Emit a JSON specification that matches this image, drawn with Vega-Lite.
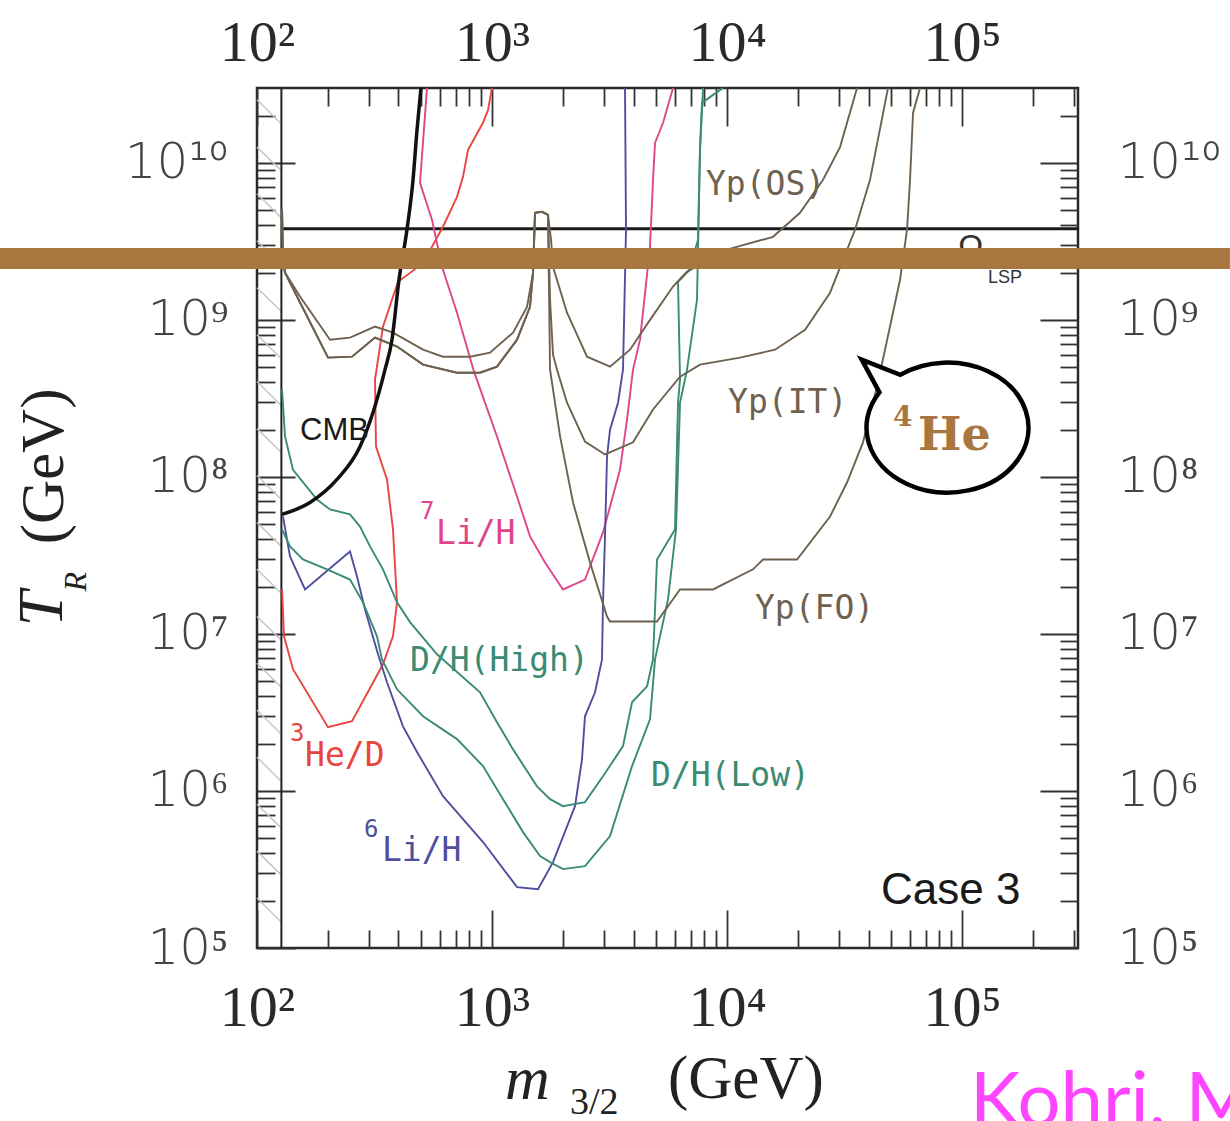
{
"$schema":"https://vega.github.io/schema/vega-lite/v6.json",
"width":821,"height":860,
"autosize":{"type":"none"},
"padding":{"left":257,"top":88,"right":152,"bottom":173},
"background":"white",
"config":{"view":{"stroke":"#2a2a2a","strokeWidth":2.5},"axis":{"domain":false,"grid":false,"title":null,"tickColor":"#333333","tickWidth":1.8,"labelOverlap":false,"labelFlush":false}},
"resolve":{"axis":{"x":"independent","y":"independent"}},
"datasets":{
"curves":[
{"c":"CMB","m":127.8,"T":5.77e7},{"c":"CMB","m":168.1,"T":6.87e7},{"c":"CMB","m":219,"T":9.63e7},{"c":"CMB","m":274.4,"T":1.56e8},{"c":"CMB","m":311.6,"T":2.57e8},{"c":"CMB","m":350.5,"T":4.82e8},{"c":"CMB","m":375.3,"T":7.48e8},{"c":"CMB","m":402,"T":1.8e9},{"c":"CMB","m":434.6,"T":3.75e9},{"c":"CMB","m":461.2,"T":7.8e9},{"c":"CMB","m":479.6,"T":1.62e10},{"c":"CMB","m":498.6,"T":3.0e10},
{"c":"He3","m":127.8,"T":1.922e7},{"c":"He3","m":130.3,"T":9.66e6},{"c":"He3","m":142.3,"T":5.96e6},{"c":"He3","m":200.5,"T":2.55e6},{"c":"He3","m":253.7,"T":2.78e6},{"c":"He3","m":343.6,"T":6.41e6},{"c":"He3","m":379,"T":9.66e6},{"c":"He3","m":394.3,"T":1.59e7},{"c":"He3","m":379,"T":4.63e7},{"c":"He3","m":357.4,"T":9.63e7},{"c":"He3","m":320.9,"T":1.56e8},{"c":"He3","m":317.8,"T":4.17e8},{"c":"He3","m":343.6,"T":9.06e8},{"c":"He3","m":398.1,"T":1.75e9},{"c":"He3","m":479.6,"T":2.15e9},{"c":"He3","m":555.4,"T":2.92e9},{"c":"He3","m":618.6,"T":3.92e9},{"c":"He3","m":709.8,"T":6.08e9},{"c":"He3","m":752.6,"T":8.15e9},{"c":"He3","m":790.6,"T":1.21e10},{"c":"He3","m":915.6,"T":1.8e10},{"c":"He3","m":961.6,"T":2.17e10},{"c":"He3","m":1000,"T":3.0e10},
{"c":"Li7","m":528.9,"T":3.0e10},{"c":"Li7","m":493.9,"T":7.46e9},{"c":"Li7","m":555.4,"T":4.34e9},{"c":"Li7","m":612.6,"T":2.18e9},{"c":"Li7","m":709.8,"T":1.11e9},{"c":"Li7","m":838.3,"T":4.68e8},{"c":"Li7","m":1050,"T":1.81e8},{"c":"Li7","m":1278,"T":7.5e7},{"c":"Li7","m":1451,"T":4.18e7},{"c":"Li7","m":1681,"T":2.85e7},{"c":"Li7","m":2005,"T":1.92e7},{"c":"Li7","m":2487,"T":2.22e7},{"c":"Li7","m":2967,"T":4.43e7},{"c":"Li7","m":3504,"T":1.11e8},{"c":"Li7","m":3754,"T":2.32e8},{"c":"Li7","m":3981,"T":4.82e8},{"c":"Li7","m":4265,"T":7.48e8},{"c":"Li7","m":4702,"T":2.92e9},{"c":"Li7","m":4843,"T":7.8e9},{"c":"Li7","m":4939,"T":1.34e10},{"c":"Li7","m":5343,"T":1.8e10},{"c":"Li7","m":5891,"T":3.0e10},
{"c":"Li6","m":129,"T":5.6e7},{"c":"Li6","m":138.2,"T":3.12e7},{"c":"Li6","m":160.1,"T":1.92e7},{"c":"Li6","m":248.7,"T":3.35e7},{"c":"Li6","m":266.4,"T":2.32e7},{"c":"Li6","m":288.1,"T":1.43e7},{"c":"Li6","m":327.3,"T":7.42e6},{"c":"Li6","m":357.4,"T":4.92e6},{"c":"Li6","m":418,"T":2.58e6},{"c":"Li6","m":479.6,"T":1.77e6},{"c":"Li6","m":618.6,"T":9.27e5},{"c":"Li6","m":915.6,"T":4.73e5},{"c":"Li6","m":1278,"T":2.44e5},{"c":"Li6","m":1569,"T":2.37e5},{"c":"Li6","m":1818,"T":3.52e5},{"c":"Li6","m":2255,"T":8.0e5},{"c":"Li6","m":2415,"T":1.59e6},{"c":"Li6","m":2487,"T":2.99e6},{"c":"Li6","m":2744,"T":4.25e6},{"c":"Li6","m":2938,"T":6.89e6},{"c":"Li6","m":2967,"T":1.59e7},{"c":"Li6","m":3026,"T":4.18e7},{"c":"Li6","m":3086,"T":1.35e8},{"c":"Li6","m":3178,"T":2.0e8},{"c":"Li6","m":3437,"T":2.97e8},{"c":"Li6","m":3609,"T":4.82e8},{"c":"Li6","m":3717,"T":3.75e9},{"c":"Li6","m":3681,"T":3.0e10},
{"c":"DHH","m":127.8,"T":3.6e8},{"c":"DHH","m":131.6,"T":1.81e8},{"c":"DHH","m":142.3,"T":1.11e8},{"c":"DHH","m":180,"T":7.18e7},{"c":"DHH","m":204.5,"T":6.21e7},{"c":"DHH","m":248.7,"T":5.77e7},{"c":"DHH","m":274.4,"T":4.83e7},{"c":"DHH","m":302.6,"T":3.61e7},{"c":"DHH","m":343.6,"T":2.58e7},{"c":"DHH","m":394.3,"T":1.59e7},{"c":"DHH","m":447.8,"T":1.19e7},{"c":"DHH","m":583.4,"T":7.42e6},{"c":"DHH","m":889,"T":4.25e6},{"c":"DHH","m":1050,"T":2.74e6},{"c":"DHH","m":1229,"T":1.84e6},{"c":"DHH","m":1554,"T":1.07e6},{"c":"DHH","m":1766,"T":8.87e5},{"c":"DHH","m":2005,"T":8.0e5},{"c":"DHH","m":2487,"T":8.49e5},{"c":"DHH","m":2967,"T":1.24e6},{"c":"DHH","m":3609,"T":1.93e6},{"c":"DHH","m":3943,"T":3.67e6},{"c":"DHH","m":4567,"T":4.64e6},{"c":"DHH","m":4843,"T":6.89e6},{"c":"DHH","m":5036,"T":2.98e7},{"c":"DHH","m":6006,"T":4.63e7},{"c":"DHH","m":6187,"T":2.97e8},{"c":"DHH","m":6310,"T":4.17e8},{"c":"DHH","m":6187,"T":1.75e9},{"c":"DHH","m":6891,"T":2.06e9},{"c":"DHH","m":7526,"T":3.24e9},{"c":"DHH","m":7676,"T":1.21e10},{"c":"DHH","m":7906,"T":3.0e10},
{"c":"DHL","m":127.8,"T":4.63e7},{"c":"DHL","m":138.2,"T":3.61e7},{"c":"DHL","m":156.9,"T":2.98e7},{"c":"DHL","m":198.6,"T":2.58e7},{"c":"DHL","m":248.7,"T":2.22e7},{"c":"DHL","m":282.5,"T":1.59e7},{"c":"DHL","m":324.1,"T":9.66e6},{"c":"DHL","m":340.3,"T":6.89e6},{"c":"DHL","m":394.3,"T":4.44e6},{"c":"DHL","m":508.6,"T":2.99e6},{"c":"DHL","m":709.8,"T":2.14e6},{"c":"DHL","m":915.6,"T":1.44e6},{"c":"DHL","m":1114,"T":8.87e5},{"c":"DHL","m":1355,"T":5.47e5},{"c":"DHL","m":1601,"T":3.85e5},{"c":"DHL","m":1766,"T":3.52e5},{"c":"DHL","m":2005,"T":3.18e5},{"c":"DHL","m":2487,"T":3.32e5},{"c":"DHL","m":3178,"T":5.16e5},{"c":"DHL","m":3943,"T":1.44e6},{"c":"DHL","m":4702,"T":2.86e6},{"c":"DHL","m":4939,"T":6.89e6},{"c":"DHL","m":5609,"T":1.66e7},{"c":"DHL","m":6067,"T":4.63e7},{"c":"DHL","m":6310,"T":2.97e8},{"c":"DHL","m":6757,"T":4.82e8},{"c":"DHL","m":7452,"T":1.34e9},{"c":"DHL","m":7676,"T":1.26e10},{"c":"DHL","m":7828,"T":2.41e10},{"c":"DHL","m":8718,"T":2.71e10},{"c":"DHL","m":9616,"T":3.0e10},
{"c":"YpOS","m":127.8,"T":5.02e9},{"c":"YpOS","m":129,"T":2.42e9},{"c":"YpOS","m":131.6,"T":2.0e9},{"c":"YpOS","m":152.4,"T":1.41e9},{"c":"YpOS","m":204.5,"T":7.48e8},{"c":"YpOS","m":248.7,"T":7.71e8},{"c":"YpOS","m":317.8,"T":9.06e8},{"c":"YpOS","m":379,"T":8.29e8},{"c":"YpOS","m":508.6,"T":6.46e8},{"c":"YpOS","m":618.6,"T":5.83e8},{"c":"YpOS","m":806,"T":5.83e8},{"c":"YpOS","m":980.6,"T":6.18e8},{"c":"YpOS","m":1229,"T":8.29e8},{"c":"YpOS","m":1409,"T":1.21e9},{"c":"YpOS","m":1495,"T":2.0e9},{"c":"YpOS","m":1524,"T":4.81e9},{"c":"YpOS","m":1633,"T":4.88e9},{"c":"YpOS","m":1731,"T":4.67e9},{"c":"YpOS","m":1783,"T":3.24e9},{"c":"YpOS","m":1818,"T":2.18e9},{"c":"YpOS","m":2085,"T":1.11e9},{"c":"YpOS","m":2537,"T":5.83e8},{"c":"YpOS","m":3178,"T":5.04e8},{"c":"YpOS","m":3866,"T":6.46e8},{"c":"YpOS","m":4702,"T":1.0e9},{"c":"YpOS","m":5891,"T":1.63e9},{"c":"YpOS","m":6757,"T":2.03e9},{"c":"YpOS","m":10000,"T":2.8e9},{"c":"YpOS","m":15690,"T":3.38e9},{"c":"YpOS","m":20450,"T":4.81e9},{"c":"YpOS","m":25620,"T":7.8e9},{"c":"YpOS","m":30260,"T":1.26e10},{"c":"YpOS","m":35750,"T":3.0e10},
{"c":"YpIT","m":127.8,"T":5.02e9},{"c":"YpIT","m":129,"T":2.42e9},{"c":"YpIT","m":131.6,"T":2.0e9},{"c":"YpIT","m":148,"T":1.41e9},{"c":"YpIT","m":200.5,"T":5.75e8},{"c":"YpIT","m":253.7,"T":5.83e8},{"c":"YpIT","m":317.8,"T":7.71e8},{"c":"YpIT","m":394.3,"T":6.76e8},{"c":"YpIT","m":508.6,"T":5.19e8},{"c":"YpIT","m":709.8,"T":4.61e8},{"c":"YpIT","m":889,"T":4.61e8},{"c":"YpIT","m":1050,"T":5.04e8},{"c":"YpIT","m":1278,"T":7.48e8},{"c":"YpIT","m":1451,"T":1.21e9},{"c":"YpIT","m":1495,"T":2.0e9},{"c":"YpIT","m":1524,"T":4.81e9},{"c":"YpIT","m":1633,"T":4.88e9},{"c":"YpIT","m":1731,"T":4.67e9},{"c":"YpIT","m":1766,"T":1.34e9},{"c":"YpIT","m":1818,"T":6.0e8},{"c":"YpIT","m":1891,"T":4.82e8},{"c":"YpIT","m":2085,"T":2.97e8},{"c":"YpIT","m":2487,"T":1.68e8},{"c":"YpIT","m":3026,"T":1.39e8},{"c":"YpIT","m":3981,"T":1.66e8},{"c":"YpIT","m":4843,"T":2.69e8},{"c":"YpIT","m":6310,"T":4.35e8},{"c":"YpIT","m":7676,"T":5.19e8},{"c":"YpIT","m":11360,"T":5.75e8},{"c":"YpIT","m":16010,"T":6.46e8},{"c":"YpIT","m":21480,"T":8.66e8},{"c":"YpIT","m":27440,"T":1.49e9},{"c":"YpIT","m":35040,"T":3.75e9},{"c":"YpIT","m":40600,"T":7.8e9},{"c":"YpIT","m":48430,"T":3.0e10},
{"c":"YpFO","m":127.8,"T":5.02e9},{"c":"YpFO","m":129,"T":2.42e9},{"c":"YpFO","m":131.6,"T":2.0e9},{"c":"YpFO","m":148,"T":1.41e9},{"c":"YpFO","m":200.5,"T":5.75e8},{"c":"YpFO","m":253.7,"T":5.83e8},{"c":"YpFO","m":317.8,"T":7.71e8},{"c":"YpFO","m":394.3,"T":6.76e8},{"c":"YpFO","m":508.6,"T":5.19e8},{"c":"YpFO","m":709.8,"T":4.61e8},{"c":"YpFO","m":889,"T":4.61e8},{"c":"YpFO","m":1050,"T":5.04e8},{"c":"YpFO","m":1278,"T":7.48e8},{"c":"YpFO","m":1451,"T":1.21e9},{"c":"YpFO","m":1495,"T":2.0e9},{"c":"YpFO","m":1524,"T":4.81e9},{"c":"YpFO","m":1633,"T":4.88e9},{"c":"YpFO","m":1731,"T":4.67e9},{"c":"YpFO","m":1766,"T":4.82e8},{"c":"YpFO","m":1948,"T":1.81e8},{"c":"YpFO","m":2212,"T":6.87e7},{"c":"YpFO","m":2612,"T":2.85e7},{"c":"YpFO","m":3086,"T":1.29e7},{"c":"YpFO","m":3178,"T":1.2e7},{"c":"YpFO","m":5036,"T":1.2e7},{"c":"YpFO","m":6310,"T":1.92e7},{"c":"YpFO","m":8718,"T":1.92e7},{"c":"YpFO","m":12900,"T":2.58e7},{"c":"YpFO","m":14230,"T":2.98e7},{"c":"YpFO","m":19860,"T":2.98e7},{"c":"YpFO","m":27440,"T":5.6e7},{"c":"YpFO","m":32400,"T":9.21e7},{"c":"YpFO","m":37900,"T":1.66e8},{"c":"YpFO","m":43480,"T":3.76e8},{"c":"YpFO","m":47020,"T":6.46e8},{"c":"YpFO","m":54480,"T":1.8e9},{"c":"YpFO","m":58340,"T":3.75e9},{"c":"YpFO","m":60080,"T":7.8e9},{"c":"YpFO","m":61870,"T":2.08e10},{"c":"YpFO","m":66260,"T":3.0e10}
],
"hatch":[{"top":2.52e10,"bot":1.77e10},{"top":1.26e10,"bot":8.9e9},{"top":6.35e9,"bot":4.47e9},{"top":3.19e9,"bot":2.24e9},{"top":1.6e9,"bot":1.13e9},{"top":8.05e8,"bot":5.66e8},{"top":4.05e8,"bot":2.84e8},{"top":2.03e8,"bot":1.43e8},{"top":1.02e8,"bot":7.18e7},{"top":5.13e7,"bot":3.61e7},{"top":2.58e7,"bot":1.81e7},{"top":1.29e7,"bot":9.1e6},{"top":6.5e6,"bot":4.57e6},{"top":3.27e6,"bot":2.3e6},{"top":1.64e6,"bot":1.15e6},{"top":8.24e5,"bot":5.8e5},{"top":4.14e5,"bot":2.91e5},{"top":2.08e5,"bot":1.46e5}],
"monolabels":[
{"t":"Yp(OS)","c":"YpOS","m":8137,"T":6.26e9},
{"t":"Yp(IT)","c":"YpIT","m":10100,"T":2.57e8},
{"t":"Yp(FO)","c":"YpFO","m":13150,"T":1.24e7},
{"t":"D/H(High)","c":"DHH","m":447.8,"T":5.78e6},
{"t":"D/H(Low)","c":"DHL","m":4749,"T":1.07e6},
{"t":"Li/H","c":"Li7","m":577.7,"T":3.72e7},
{"t":"He/D","c":"He3","m":160.1,"T":1.44e6},
{"t":"Li/H","c":"Li6","m":340.3,"T":3.58e5}
],
"suplabels":[
{"t":"7","c":"Li7","m":493.9,"T":5.36e7},
{"t":"3","c":"He3","m":138.2,"T":2.07e6},
{"t":"6","c":"Li6","m":285.3,"T":5.08e5}
],
"ticks":[{"m":100,"T":100000}]
},
"layer":[
{"data":{"name":"hatch"},"mark":{"type":"rule","color":"#c6c6c6","strokeWidth":1.5},
 "encoding":{"x":{"datum":100,"type":"quantitative","scale":{"type":"log","domain":[100,311500],"nice":false},"axis":null},"x2":{"datum":127},
 "y":{"field":"top","type":"quantitative","scale":{"type":"log","domain":[100000,29970000000],"nice":false},"axis":null},"y2":{"field":"bot"}}},
{"data":{"values":[{}]},"mark":{"type":"rule","color":"#222222","strokeWidth":2},
 "encoding":{"x":{"datum":127,"type":"quantitative","axis":null},"y":{"datum":100000,"type":"quantitative","axis":null},"y2":{"datum":29970000000}}},
{"data":{"values":[{}]},"mark":{"type":"rule","color":"#1a1a1a","strokeWidth":3},
 "encoding":{"x":{"datum":127,"type":"quantitative","axis":null},"x2":{"datum":311500},"y":{"datum":3.8e9,"type":"quantitative","axis":null}}},
{"data":{"name":"curves"},"transform":[{"filter":"datum.c != 'CMB'"}],"mark":{"type":"line","strokeWidth":1.9},
 "encoding":{"x":{"field":"m","type":"quantitative","axis":null},"y":{"field":"T","type":"quantitative","axis":null},
 "color":{"field":"c","type":"nominal","legend":null,"scale":{"domain":["CMB","He3","Li7","Li6","DHH","DHL","YpOS","YpIT","YpFO","note"],"range":["#111111","#e8453f","#e0448c","#4d4f9c","#3a8b72","#3a8b72","#6f6150","#6f6150","#6f6150","#222222"]}},
 "order":{"value":null}}},
{"data":{"name":"curves"},"transform":[{"filter":"datum.c == 'CMB'"}],"mark":{"type":"line","strokeWidth":3.5,"color":"#111111","interpolate":"monotone"},
 "encoding":{"x":{"field":"m","type":"quantitative","axis":null},"y":{"field":"T","type":"quantitative","axis":null},"order":{"value":null}}},
{"data":{"name":"monolabels"},"mark":{"type":"text","font":"DejaVu Sans Mono","fontSize":33,"align":"left","baseline":"alphabetic"},
 "encoding":{"x":{"field":"m","type":"quantitative","axis":null},"y":{"field":"T","type":"quantitative","axis":null},"text":{"field":"t"},
 "color":{"field":"c","type":"nominal","legend":null,"scale":{"domain":["CMB","He3","Li7","Li6","DHH","DHL","YpOS","YpIT","YpFO","note"],"range":["#111111","#e8453f","#e0448c","#4d4f9c","#3a8b72","#3a8b72","#6f6150","#6f6150","#6f6150","#222222"]}}}},
{"data":{"name":"suplabels"},"mark":{"type":"text","font":"DejaVu Sans Mono","fontSize":24,"align":"left","baseline":"alphabetic"},
 "encoding":{"x":{"field":"m","type":"quantitative","axis":null},"y":{"field":"T","type":"quantitative","axis":null},"text":{"field":"t"},
 "color":{"field":"c","type":"nominal","legend":null,"scale":{"domain":["CMB","He3","Li7","Li6","DHH","DHL","YpOS","YpIT","YpFO","note"],"range":["#111111","#e8453f","#e0448c","#4d4f9c","#3a8b72","#3a8b72","#6f6150","#6f6150","#6f6150","#222222"]}}}},
{"data":{"values":[{"t":"CMB","m":152.4,"T":1.73e8}]},"mark":{"type":"text","font":"Liberation Sans","fontSize":31,"align":"left","baseline":"alphabetic","color":"#1a1a1a"},
 "encoding":{"x":{"field":"m","type":"quantitative","axis":null},"y":{"field":"T","type":"quantitative","axis":null},"text":{"field":"t"}}},
{"data":{"values":[{"t":"Case  3","m":45220,"T":1.905e5}]},"mark":{"type":"text","font":"Liberation Sans","fontSize":44,"align":"left","baseline":"alphabetic","color":"#1a1a1a"},
 "encoding":{"x":{"field":"m","type":"quantitative","axis":null},"y":{"field":"T","type":"quantitative","axis":null},"text":{"field":"t"}}},
{"data":{"values":[{"t":"Ω","m":96160,"T":2.49e9}]},"mark":{"type":"text","font":"Liberation Sans","fontSize":34,"align":"left","baseline":"alphabetic","color":"#333333"},
 "encoding":{"x":{"field":"m","type":"quantitative","axis":null},"y":{"field":"T","type":"quantitative","axis":null},"text":{"field":"t"}}},
{"data":{"values":[{"t":"LSP","m":129000,"T":1.73e9}]},"mark":{"type":"text","font":"Liberation Sans","fontSize":18,"align":"left","baseline":"alphabetic","color":"#333333"},
 "encoding":{"x":{"field":"m","type":"quantitative","axis":null},"y":{"field":"T","type":"quantitative","axis":null},"text":{"field":"t"}}},
{"data":{"values":[{}]},"mark":{"type":"rule","color":"#a7773f","strokeWidth":21},
 "encoding":{"x":{"datum":8.06,"type":"quantitative","axis":null},"x2":{"datum":1380000},"y":{"datum":2.46e9,"type":"quantitative","axis":null}}},
{"data":{"values":[{"m":86700,"T":2.06e8}]},"mark":{"type":"point","shape":"M -0.8396 -0.4359 L -1.059 -0.84 L -0.5835 -0.6517 C -0.2643 -0.8358 0.1596 -0.8527 0.5 -0.695 C 0.9783 -0.4733 1.1422 0.0174 0.866 0.4013 C 0.5898 0.7851 -0.0217 0.9166 -0.5 0.695 C -0.9954 0.4654 -1.1504 -0.0505 -0.8396 -0.4359 Z","size":26244,"filled":true,"fill":"white","stroke":"black","strokeWidth":4.5,"opacity":1},
 "encoding":{"x":{"field":"m","type":"quantitative","axis":null},"y":{"field":"T","type":"quantitative","axis":null}}},
{"data":{"values":[{"t":"He","m":65000,"T":1.49e8}]},"mark":{"type":"text","font":"DejaVu Serif","fontWeight":"bold","fontSize":46,"align":"left","baseline":"alphabetic","color":"#a8763e"},
 "encoding":{"x":{"field":"m","type":"quantitative","axis":null},"y":{"field":"T","type":"quantitative","axis":null},"text":{"field":"t"}}},
{"data":{"values":[{"t":"4","m":50860,"T":2.12e8}]},"mark":{"type":"text","font":"DejaVu Serif","fontWeight":"bold","fontSize":28,"align":"left","baseline":"alphabetic","color":"#a8763e"},
 "encoding":{"x":{"field":"m","type":"quantitative","axis":null},"y":{"field":"T","type":"quantitative","axis":null},"text":{"field":"t"}}},
{"data":{"values":[{"t":"m","m":1136,"T":1.095e4}]},"mark":{"type":"text","font":"Liberation Serif","fontStyle":"italic","fontSize":62,"align":"left","baseline":"alphabetic","color":"#222222"},
 "encoding":{"x":{"field":"m","type":"quantitative","axis":null},"y":{"field":"T","type":"quantitative","axis":null},"text":{"field":"t"}}},
{"data":{"values":[{"t":"3/2","m":2147,"T":8.8e3}]},"mark":{"type":"text","font":"Liberation Serif","fontSize":38,"align":"left","baseline":"alphabetic","color":"#222222"},
 "encoding":{"x":{"field":"m","type":"quantitative","axis":null},"y":{"field":"T","type":"quantitative","axis":null},"text":{"field":"t"}}},
{"data":{"values":[{"t":"(GeV)","m":5609,"T":1.11e4}]},"mark":{"type":"text","font":"Liberation Serif","fontSize":61,"align":"left","baseline":"alphabetic","color":"#222222"},
 "encoding":{"x":{"field":"m","type":"quantitative","axis":null},"y":{"field":"T","type":"quantitative","axis":null},"text":{"field":"t"}}},
{"data":{"values":[{"t":"T","m":14.8,"T":1.117e7}]},"mark":{"type":"text","font":"Liberation Serif","fontStyle":"italic","fontSize":64,"align":"left","baseline":"alphabetic","angle":270,"color":"#222222"},
 "encoding":{"x":{"field":"m","type":"quantitative","axis":null},"y":{"field":"T","type":"quantitative","axis":null},"text":{"field":"t"}}},
{"data":{"values":[{"t":"R","m":18.7,"T":1.866e7}]},"mark":{"type":"text","font":"Liberation Serif","fontStyle":"italic","fontSize":32,"align":"left","baseline":"alphabetic","angle":270,"color":"#222222"},
 "encoding":{"x":{"field":"m","type":"quantitative","axis":null},"y":{"field":"T","type":"quantitative","axis":null},"text":{"field":"t"}}},
{"data":{"values":[{"t":"(GeV)","m":14.94,"T":3.72e7}]},"mark":{"type":"text","font":"Liberation Serif","fontSize":61,"align":"left","baseline":"alphabetic","angle":270,"color":"#222222"},
 "encoding":{"x":{"field":"m","type":"quantitative","axis":null},"y":{"field":"T","type":"quantitative","axis":null},"text":{"field":"t"}}},
{"data":{"values":[{"t":"Kohri, Moroi, Yotsuyanagi","m":108100,"T":7374}]},"mark":{"type":"text","font":"Lato","fontSize":76,"align":"left","baseline":"alphabetic","color":"#ff44ff"},
 "encoding":{"x":{"field":"m","type":"quantitative","axis":null},"y":{"field":"T","type":"quantitative","axis":null},"text":{"field":"t"}}},
{"data":{"name":"ticks"},"mark":{"type":"point","opacity":0},
 "encoding":{"x":{"field":"m","type":"quantitative","axis":{"orient":"bottom","values":[100,1000,10000,100000],"tickSize":-38,"labelPadding":115,"labelBaseline":"alphabetic","labelFont":"Liberation Serif","labelFontSize":58,"labelColor":"#2a2a2a","labelExpr":"datum.value < 500 ? '10²' : datum.value < 5000 ? '10³' : datum.value < 50000 ? '10⁴' : '10⁵'"}},
 "y":{"field":"T","type":"quantitative","axis":{"orient":"left","values":[100000,1000000,10000000,100000000,1000000000,10000000000],"tickSize":-38,"labelPadding":67,"labelAlign":"right","labelBaseline":"middle","labelFont":"DejaVu Sans","labelFontWeight":200,"labelFontSize":50,"labelColor":"#444444","labelExpr":"datum.value < 5e5 ? '10⁵' : datum.value < 5e6 ? '10⁶' : datum.value < 5e7 ? '10⁷' : datum.value < 5e8 ? '10⁸' : datum.value < 5e9 ? '10⁹' : '10¹⁰'"}}}},
{"data":{"name":"ticks"},"mark":{"type":"point","opacity":0},
 "encoding":{"x":{"field":"m","type":"quantitative","axis":{"orient":"bottom","values":[200,300,400,500,600,700,800,900,2000,3000,4000,5000,6000,7000,8000,9000,20000,30000,40000,50000,60000,70000,80000,90000,200000,300000],"tickSize":-18,"labels":false}},
 "y":{"field":"T","type":"quantitative","axis":{"orient":"left","values":[200000,300000,400000,500000,600000,700000,800000,900000,2000000,3000000,4000000,5000000,6000000,7000000,8000000,9000000,20000000,30000000,40000000,50000000,60000000,70000000,80000000,90000000,200000000,300000000,400000000,500000000,600000000,700000000,800000000,900000000,2000000000,3000000000,4000000000,5000000000,6000000000,7000000000,8000000000,9000000000,20000000000],"tickSize":-18,"labels":false}}}},
{"data":{"name":"ticks"},"mark":{"type":"point","opacity":0},
 "encoding":{"x":{"field":"m","type":"quantitative","axis":{"orient":"top","values":[100,1000,10000,100000],"tickSize":-38,"labelPadding":66,"labelBaseline":"alphabetic","labelFont":"Liberation Serif","labelFontSize":58,"labelColor":"#2a2a2a","labelExpr":"datum.value < 500 ? '10²' : datum.value < 5000 ? '10³' : datum.value < 50000 ? '10⁴' : '10⁵'"}},
 "y":{"field":"T","type":"quantitative","axis":{"orient":"right","values":[100000,1000000,10000000,100000000,1000000000,10000000000],"tickSize":-38,"labelPadding":77,"labelAlign":"left","labelBaseline":"middle","labelFont":"DejaVu Sans","labelFontWeight":200,"labelFontSize":50,"labelColor":"#444444","labelExpr":"datum.value < 5e5 ? '10⁵' : datum.value < 5e6 ? '10⁶' : datum.value < 5e7 ? '10⁷' : datum.value < 5e8 ? '10⁸' : datum.value < 5e9 ? '10⁹' : '10¹⁰'"}}}},
{"data":{"name":"ticks"},"mark":{"type":"point","opacity":0},
 "encoding":{"x":{"field":"m","type":"quantitative","axis":{"orient":"top","values":[200,300,400,500,600,700,800,900,2000,3000,4000,5000,6000,7000,8000,9000,20000,30000,40000,50000,60000,70000,80000,90000,200000,300000],"tickSize":-18,"labels":false}},
 "y":{"field":"T","type":"quantitative","axis":{"orient":"right","values":[200000,300000,400000,500000,600000,700000,800000,900000,2000000,3000000,4000000,5000000,6000000,7000000,8000000,9000000,20000000,30000000,40000000,50000000,60000000,70000000,80000000,90000000,200000000,300000000,400000000,500000000,600000000,700000000,800000000,900000000,2000000000,3000000000,4000000000,5000000000,6000000000,7000000000,8000000000,9000000000,20000000000],"tickSize":-18,"labels":false}}}}
]
}
